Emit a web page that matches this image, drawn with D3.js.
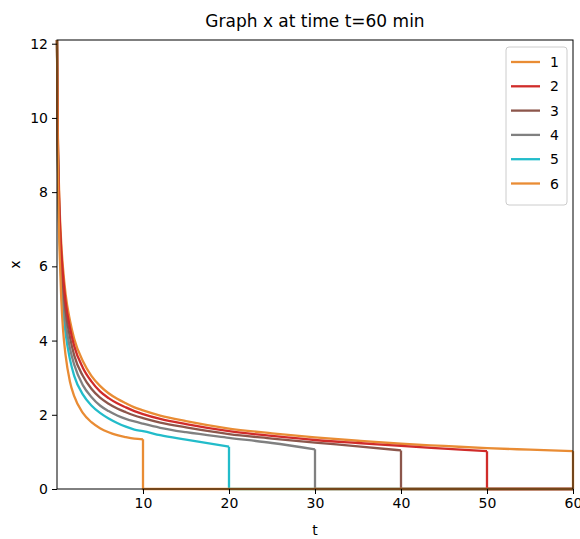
<!DOCTYPE html>
<html>
<head>
<meta charset="utf-8">
<script src="https://cdn.jsdelivr.net/npm/d3@7"></script>
<style>
  body { margin: 0; background: #fff; }
  text { font-family: "DejaVu Sans", sans-serif; fill: #000; }
</style>
</head>
<body>
<div id="chart"></div>
<script>
// sample times (min) shared by all series
var times = [0, 0.05, 0.1, 0.2, 0.3, 0.5, 0.7, 1, 1.5, 2, 3, 4, 5, 6, 7, 8, 9, 10,
             12, 15, 20, 25, 30, 35, 40, 45, 50, 55, 60]

var labels = ["1", "2", "3", "4", "5", "6"]
var endTimes = [10, 50, 40, 30, 20, 60]
var colors = ["#e98c34", "#d02c2a", "#8c564b", "#808080", "#22bcca", "#e98c34"]

// x values, one per sample time up to the series end
var x1 = [12.1, 10.2, 8.8, 7.3, 6.4, 5.1, 4.3, 3.6, 2.9, 2.5, 2.05, 1.8, 1.64, 1.53, 1.45, 1.4, 1.36, 1.34]
var x2 = [12.1, 10.6, 9.45, 8.2, 7.4, 6.4, 5.75, 5.05, 4.35, 3.85, 3.27, 2.9, 2.63, 2.45, 2.31, 2.2, 2.1, 2.02,
          1.89, 1.75, 1.56, 1.43, 1.32, 1.24, 1.16, 1.09, 1.02]
var x3 = [12.1, 10.5, 9.3, 8.0, 7.2, 6.2, 5.5, 4.8, 4.1, 3.6, 3.05, 2.7, 2.46, 2.3, 2.17, 2.07, 1.98, 1.91,
          1.79, 1.66, 1.48, 1.36, 1.25, 1.15, 1.04]
var x4 = [12.1, 10.4, 9.1, 7.8, 7.0, 5.9, 5.2, 4.5, 3.8, 3.35, 2.8, 2.48, 2.25, 2.1, 1.98, 1.89, 1.82, 1.76,
          1.65, 1.53, 1.38, 1.24, 1.07]
var x5 = [12.1, 10.3, 9.0, 7.6, 6.8, 5.6, 4.9, 4.2, 3.5, 3.05, 2.55, 2.25, 2.05, 1.9, 1.78, 1.68, 1.6, 1.56,
          1.45, 1.33, 1.14]
var x6 = [12.1, 10.7, 9.6, 8.4, 7.6, 6.6, 5.95, 5.25, 4.55, 4.05, 3.45, 3.05, 2.78, 2.58, 2.43, 2.31, 2.2, 2.12,
          1.98, 1.83, 1.63, 1.5, 1.39, 1.3, 1.22, 1.16, 1.1, 1.06, 1.02]
var seriesValues = [x1, x2, x3, x4, x5, x6]

var xTicks = [10, 20, 30, 40, 50, 60]
var yTicks = [0, 2, 4, 6, 8, 10, 12]

var width = 580, height = 539
var margin = {top: 40, right: 7, bottom: 50, left: 57}

var svg = d3.select("#chart").append("svg")
            .attr("width", width)
            .attr("height", height)

var xScale = d3.scaleLinear().domain([0, 60]).range([margin.left, width - margin.right])
var yScale = d3.scaleLinear().domain([0, 12.1]).range([height - margin.bottom, margin.top])

var series = seriesValues.map(function(vals, i) {
  var pts = vals.map(function(v, j) { return [times[j], v] })
  var last = pts[pts.length - 1]
  return {label: labels[i], color: colors[i], curve: pts,
          drop: [last, [endTimes[i], 0], [60, 0]]}
})

var smooth = d3.line().x(d => xScale(d[0])).y(d => yScale(d[1])).curve(d3.curveMonotoneX)
var straight = d3.line().x(d => xScale(d[0])).y(d => yScale(d[1]))

var plot = svg.append("g")
// drawn last-to-first so series 1 sits on top along the zero line
series.slice().reverse().forEach(function(s) {
  plot.append("path").attr("d", smooth(s.curve))
    .attr("fill", "none").attr("stroke", s.color).attr("stroke-width", 2.3)
  plot.append("path").attr("d", straight(s.drop))
    .attr("fill", "none").attr("stroke", s.color).attr("stroke-width", 2.3)
})

// axes
var xAxis = svg.append("g")
  .attr("transform", "translate(0," + yScale(0) + ")")
  .call(d3.axisBottom(xScale).tickValues(xTicks).tickSize(5).tickPadding(4))
var yAxis = svg.append("g")
  .attr("transform", "translate(" + xScale(0) + ",0)")
  .call(d3.axisLeft(yScale).tickValues(yTicks).tickFormat(d3.format("d")).tickSize(5).tickPadding(4))
svg.selectAll(".domain").remove()
svg.selectAll(".tick line").attr("stroke", "#000").attr("stroke-width", 1)
svg.selectAll(".tick text").style("font-size", "14px").style("font-family", "DejaVu Sans")

svg.append("rect")
  .attr("x", xScale(0)).attr("y", yScale(12.1))
  .attr("width", xScale(60) - xScale(0)).attr("height", yScale(0) - yScale(12.1))
  .attr("fill", "none").attr("stroke", "#000").attr("stroke-width", 1)

svg.append("text").attr("x", (xScale(0) + xScale(60)) / 2).attr("y", 27)
  .attr("text-anchor", "middle").style("font-size", "17px").text("Graph x at time t=60 min")
svg.append("text").attr("x", (xScale(0) + xScale(60)) / 2).attr("y", 535)
  .attr("text-anchor", "middle").style("font-size", "14px").text("t")
svg.append("text").attr("transform", "translate(20," + yScale(6.05) + ") rotate(-90)")
  .attr("text-anchor", "middle").style("font-size", "14px").text("x")

// legend
var legend = svg.append("g").attr("transform", "translate(506,47)")
legend.append("rect").attr("width", 61).attr("height", 158).attr("rx", 3)
  .attr("fill", "#fff").attr("fill-opacity", 0.8).attr("stroke", "#ccc")
var rows = legend.selectAll("g.row").data(series).enter().append("g")
  .attr("class", "row")
  .attr("transform", (d, i) => "translate(0," + (15 + i * 24.3) + ")")
rows.append("line").attr("x1", 5).attr("x2", 34)
  .attr("stroke", d => d.color).attr("stroke-width", 2.3)
rows.append("text").attr("x", 44).attr("y", 5).style("font-size", "14px").text(d => d.label)
</script>
</body>
</html>
